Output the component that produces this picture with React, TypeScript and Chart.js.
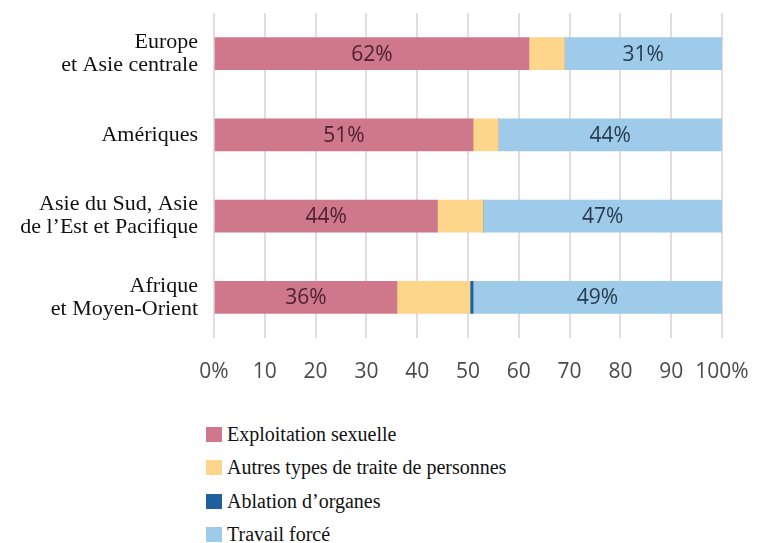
import React, { useEffect, useRef } from "react";
import { Chart, registerables } from "chart.js";

Chart.register(...registerables);

const categories: string[][] = [
  ["Europe", "et Asie centrale"],
  ["Amériques"],
  ["Asie du Sud, Asie", "de l’Est et Pacifique"],
  ["Afrique", "et Moyen-Orient"],
];

const seriesNames = [
  "Exploitation sexuelle",
  "Autres types de traite de personnes",
  "Ablation d’organes",
  "Travail forcé",
];

const exploitation = [62, 51, 44, 36];
const autres = [7, 5, 9, 14.4];
const ablation = [0, 0, 0, 0.6];
const travail = [31, 44, 47, 49];

const xTicks = [0, 10, 20, 30, 40, 50, 60, 70, 80, 90, 100];

const colors = ["#d0788b", "#fdd68b", "#1f5f9e", "#9ecbea"];
const labelColors = ["#4a2230", null, null, "#273a4e"];

const valueLabels = {
  id: "valueLabels",
  afterDatasetsDraw(chart: any) {
    const ctx = chart.ctx;
    ctx.save();
    ctx.font = "21px 'Open Sans'";
    ctx.textAlign = "center";
    ctx.textBaseline = "middle";
    chart.data.datasets.forEach((ds: any, di: number) => {
      const col = labelColors[di];
      if (!col) return;
      const meta = chart.getDatasetMeta(di);
      meta.data.forEach((el: any, i: number) => {
        const v = ds.data[i];
        const cx = (el.x + el.base) / 2;
        ctx.fillStyle = col;
        ctx.fillText(Math.round(v) + "%", cx, el.y + 1);
      });
    });
    ctx.restore();
  },
};

export default function App() {
  const ref = useRef<HTMLCanvasElement | null>(null);

  useEffect(() => {
    if (!ref.current) return;
    const chart = new Chart(ref.current, {
      type: "bar",
      data: {
        labels: categories as any,
        datasets: [exploitation, autres, ablation, travail].map((d, i) => ({
          label: seriesNames[i],
          data: d,
          backgroundColor: colors[i],
          borderWidth: 0,
          barThickness: 32,
        })),
      },
      options: {
        indexAxis: "y",
        animation: false,
        responsive: false,
        maintainAspectRatio: false,
        layout: { padding: { top: 13, right: 45, left: 0, bottom: 0 } },
        plugins: {
          legend: { display: false },
          tooltip: { enabled: false },
        },
        scales: {
          x: {
            stacked: true,
            min: 0,
            max: 100,
            afterBuildTicks(scale: any) {
              scale.ticks = xTicks.map((v) => ({ value: v }));
            },
            afterFit(scale: any) {
              scale.height = 62;
              scale.paddingLeft = 0;
              scale.paddingRight = 0;
            },
            grid: { color: "#e7d9e1", lineWidth: 2, drawTicks: false },
            border: { display: false },
            ticks: {
              padding: 21,
              color: "#4a4a4a",
              maxRotation: 0,
              minRotation: 0,
              autoSkip: false,
              font: { family: "'Open Sans'", size: 21 },
              callback: (v: any) => (v === 0 || v === 100 ? v + "%" : String(v)),
            },
          },
          y: {
            stacked: true,
            afterFit(scale: any) {
              scale.width = 214;
              scale.paddingTop = 0;
              scale.paddingBottom = 0;
            },
            grid: { display: false, drawTicks: false },
            border: { display: false },
            ticks: {
              padding: 16,
              color: "#111111",
              font: { family: "'Liberation Serif'", size: 22, lineHeight: 1.05 },
            },
          },
        },
      },
      plugins: [valueLabels],
    });
    return () => chart.destroy();
  }, []);

  return (
    <div
      style={{
        position: "absolute",
        left: 0,
        top: 0,
        width: 767,
        height: 543,
        background: "#ffffff",
        overflow: "hidden",
      }}
    >
      <canvas ref={ref} width={767} height={400} style={{ position: "absolute", left: 0, top: 0 }} />
      <div style={{ position: "absolute", left: 206, top: 418 }}>
        {seriesNames.map((n, i) => (
          <div
            key={n}
            style={{
              display: "flex",
              alignItems: "center",
              height: 33.3,
              fontFamily: "'Liberation Serif', serif",
              fontSize: 20,
              color: "#111",
              whiteSpace: "nowrap",
            }}
          >
            <span
              style={{
                display: "inline-block",
                width: 16,
                height: 15,
                background: colors[i],
                marginRight: 5,
              }}
            />
            {n}
          </div>
        ))}
      </div>
    </div>
  );
}
